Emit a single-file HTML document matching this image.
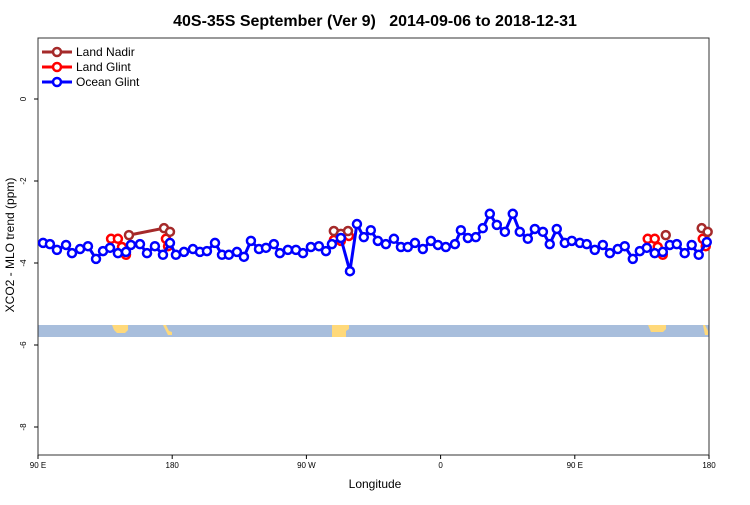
<!DOCTYPE html>
<html><head><meta charset="utf-8"><style>
body{margin:0;background:#fff;font-family:"Liberation Sans",sans-serif}
svg text{font-family:"Liberation Sans",sans-serif}
</style></head><body>
<svg id="chart" width="750" height="500" xmlns="http://www.w3.org/2000/svg">
<text x="375" y="26" text-anchor="middle" font-size="16" font-weight="bold">40S-35S September (Ver 9)&#160;&#160; 2014-09-06 to 2018-12-31</text>
<text x="375" y="488" text-anchor="middle" font-size="12">Longitude</text>
<text transform="translate(14,245) rotate(-90)" text-anchor="middle" font-size="12">XCO2 - MLO trend (ppm)</text>
<g id="map">
<rect x="38" y="325" width="671" height="12" fill="#a8bedc"/>
<path d="M112 325 h16 v5 l-3 3 h-8 l-3 -3z" fill="#ffd97a"/>
<path d="M163 325 h3 l3 6 l3 1 v3 h-4 l-2 -4z" fill="#ffd97a"/>
<path d="M332 325 h17 v4 l-3 2 v6 h-14z" fill="#ffd97a"/>
<path d="M648 325 h18 v4 l-3 3 h-12 z" fill="#ffd97a"/>
<path d="M703 325 h2 l3 6 v4 h-3 z" fill="#ffd97a"/>
</g>
<g id="axes"></g>
<g id="series"></g>
<g>
<line x1="42" y1="52" x2="72" y2="52" stroke="#a52a2a" stroke-width="3"/><circle cx="57" cy="52" r="4" fill="#fff" stroke="#a52a2a" stroke-width="2.5"/>
<text x="76" y="56" font-size="12">Land Nadir</text>
<line x1="42" y1="67" x2="72" y2="67" stroke="#ff0000" stroke-width="3"/><circle cx="57" cy="67" r="4" fill="#fff" stroke="#ff0000" stroke-width="2.5"/>
<text x="76" y="71" font-size="12">Land Glint</text>
<line x1="42" y1="82" x2="72" y2="82" stroke="#0000ff" stroke-width="3"/><circle cx="57" cy="82" r="4" fill="#fff" stroke="#0000ff" stroke-width="2.5"/>
<text x="76" y="86" font-size="12">Ocean Glint</text>
</g>
</svg>
<script>
const xTicks=[90,180,270,360,450,540];
const xTickLabels=["90 E","180","90 W","0","90 E","180"];
const yTicks=[0,-2,-4,-6,-8];
const yTickLabels=["0","-2","-4","-6","-8"];
const oceanLon=[93.4,98,102.7,108.8,112.8,118.2,123.5,128.9,133.6,138.3,143.6,149,152.3,158.4,163.1,168.4,173.8,178.5,182.5,187.9,193.9,198.6,203.3,208.7,213.4,218,223.4,228.1,232.8,238.2,242.9,248.2,252.2,257.6,263,267.7,273,278.4,283.1,287.1,293.1,299.2,303.9,308.5,313.2,317.9,323.3,328.7,333.4,338,342.8,348.1,353.5,358.2,363.5,369.6,373.6,378.3,383.6,388.3,393,397.7,403.1,408.4,413.1,418.5,423.2,428.6,433.2,437.9,443.3,448,453.4,458,463.4,468.8,473.5,478.8,483.5,488.9,493.6,498.3,503.6,509,513.7,518.4,523.7,528.4,533.1,538.5];
const oceanVal=[-3.51,-3.54,-3.68,-3.56,-3.76,-3.66,-3.59,-3.9,-3.71,-3.63,-3.76,-3.73,-3.56,-3.54,-3.76,-3.59,-3.8,-3.51,-3.8,-3.73,-3.66,-3.73,-3.71,-3.51,-3.8,-3.8,-3.73,-3.85,-3.46,-3.66,-3.63,-3.54,-3.76,-3.68,-3.68,-3.76,-3.61,-3.59,-3.71,-3.54,-3.39,-4.2,-3.05,-3.37,-3.2,-3.46,-3.54,-3.41,-3.61,-3.61,-3.51,-3.66,-3.46,-3.56,-3.61,-3.54,-3.2,-3.39,-3.37,-3.15,-2.8,-3.07,-3.24,-2.8,-3.24,-3.41,-3.17,-3.24,-3.54,-3.17,-3.51,-3.46,-3.51,-3.54,-3.68,-3.56,-3.76,-3.66,-3.59,-3.9,-3.71,-3.63,-3.76,-3.73,-3.56,-3.54,-3.76,-3.56,-3.8,-3.49];
const glintLon=[139,143.6,146.3,149,null,175.8,177.2,null,288.4,293.1,298.5,null,498.9,503.6,505.6,509,null,535.8,537.8];
const glintVal=[-3.41,-3.41,-3.61,-3.8,null,-3.41,-3.59,null,-3.44,-3.46,-3.34,null,-3.41,-3.41,-3.61,-3.8,null,-3.41,-3.59];
const nadirLon=[151,174.5,178.5,null,288.4,293.1,297.9,null,511,null,535.1,539.1];
const nadirVal=[-3.32,-3.15,-3.24,null,-3.22,-3.29,-3.22,null,-3.32,null,-3.15,-3.24];
const NS="http://www.w3.org/2000/svg";
const X0=38,X1=709,Y0=38,Y1=455;
const xs=l=>X0+(l-90)/450*(X1-X0);
const ys=v=>99-v*41;
function mk(tag,attrs,parent){const e=document.createElementNS(NS,tag);for(const k in attrs)e.setAttribute(k,attrs[k]);parent.appendChild(e);return e;}
const ax=document.getElementById('axes');
let fr=mk('rect',{x:X0,y:Y0,width:X1-X0,height:Y1-Y0,fill:'none',stroke:'#333','stroke-width':1},ax);


xTicks.forEach((t,i)=>{
 const x=xs(t);
 const tk=mk('line',{x1:x,x2:x,y1:Y1,y2:Y1+4,stroke:'#000'},ax);
 
 
 const tx=mk('text',{x:x,y:Y1+13,'text-anchor':'middle','font-size':'8'},ax);tx.textContent=xTickLabels[i];
 
 
});
yTicks.forEach((t,i)=>{
 const y=ys(t);
 const tk=mk('line',{x1:X0-4,x2:X0,y1:y,y2:y,stroke:'#000'},ax);
 
 
 const tx=mk('text',{transform:`translate(${X0-12},${y}) rotate(-90)`,'text-anchor':'middle','font-size':'8'},ax);tx.textContent=yTickLabels[i];
 
 
});
const sg=document.getElementById('series');
function drawSeries(lons,vals,color,name){
 const g=mk('g',{},sg);
 
 
 let d='',pen=false;
 lons.forEach((l,i)=>{if(l===null||vals[i]===null){pen=false;return;}d+=(pen?'L':'M')+xs(l).toFixed(1)+' '+ys(vals[i]).toFixed(1);pen=true;});
 mk('path',{d:d,fill:'none',stroke:color,'stroke-width':3},g);
 lons.forEach((l,i)=>{if(l===null||vals[i]===null)return;
  const c=mk('circle',{cx:xs(l),cy:ys(vals[i]),r:4,fill:'#fff',stroke:color,'stroke-width':2.5},g);
  
  
 });
}
drawSeries(glintLon,glintVal,'#ff0000','land-glint-series');
drawSeries(nadirLon,nadirVal,'#a52a2a','land-nadir-series');
drawSeries(oceanLon,oceanVal,'#0000ff','ocean-glint-series');
</script>
</body></html>
